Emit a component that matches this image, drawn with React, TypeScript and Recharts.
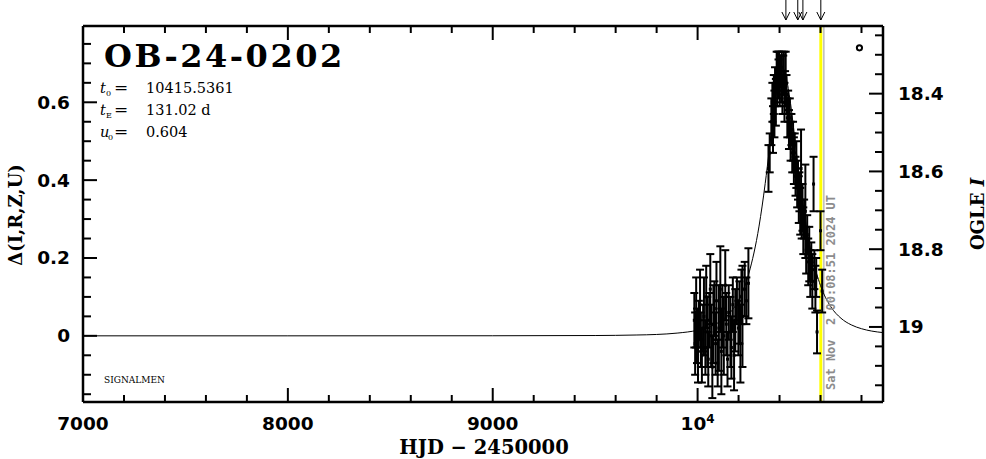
import React from 'react';
import { ComposedChart, Line, Scatter, XAxis, YAxis, ErrorBar, ReferenceLine } from 'recharts';

// model light curve (delta mag)
const modelT = [7000, 8000, 9000, 9500, 9700, 9800, 9900, 10000, 10050, 10100, 10150, 10200, 10250, 10300, 10330, 10350, 10380, 10400, 10415.5, 10430, 10450, 10480, 10500, 10520, 10560, 10600, 10650, 10700, 10750, 10800, 10850, 10905];
const modelD = [0, 0, 0.0002, 0.0008, 0.0021, 0.0035, 0.007, 0.0143, 0.0215, 0.0336, 0.0545, 0.0917, 0.1598, 0.2819, 0.3912, 0.4774, 0.6063, 0.6661, 0.6819, 0.6681, 0.6104, 0.4821, 0.3955, 0.319, 0.203, 0.1291, 0.075, 0.0451, 0.0282, 0.0183, 0.0122, 0.0083];

// early season (baseline) photometry
const obs1T = [9984, 9988, 9993, 9997, 10002, 10006, 10012, 10016, 10021, 10027, 10031, 10038, 10042, 10047, 10052, 10057, 10062, 10066, 10072, 10077, 10082, 10088, 10092, 10098, 10104, 10111, 10116, 10121, 10128, 10135, 10140, 10146, 10152, 10160, 10165, 10172, 10178, 10184, 10192, 10199, 10204, 10209, 10214, 10219, 10230, 10238, 10248];
const obs1D = [0.04, -0.02, 0.06, 0.0, -0.04, 0.03, 0.08, -0.01, -0.05, 0.02, 0.05, -0.03, 0.1, 0.01, -0.06, 0.04, 0.12, 0.0, -0.08, 0.03, 0.07, -0.02, 0.09, -0.07, 0.02, 0.12, -0.04, 0.05, 0.0, 0.13, 0.03, -0.06, 0.06, 0.01, -0.03, 0.08, -0.05, 0.04, 0.09, 0.02, 0.06, -0.02, 0.1, 0.05, 0.12, 0.09, 0.135];
const obs1E = [0.07, 0.08, 0.09, 0.07, 0.08, 0.06, 0.09, 0.07, 0.07, 0.06, 0.1, 0.07, 0.08, 0.09, 0.07, 0.07, 0.09, 0.08, 0.08, 0.1, 0.07, 0.08, 0.1, 0.06, 0.11, 0.11, 0.11, 0.08, 0.1, 0.09, 0.08, 0.07, 0.07, 0.09, 0.08, 0.07, 0.09, 0.08, 0.06, 0.07, 0.08, 0.1, 0.07, 0.13, 0.07, 0.06, 0.09];

// peak season photometry
const obs2T = [10346, 10352, 10360, 10365, 10368, 10372, 10375, 10378, 10382, 10386, 10389, 10392, 10395, 10398, 10401, 10404, 10408, 10411, 10414, 10418, 10421, 10424, 10427, 10430, 10434, 10438, 10442, 10446, 10450, 10454, 10458, 10462, 10466, 10470, 10474, 10478, 10482, 10486, 10490, 10494, 10497, 10501, 10505, 10508, 10512, 10516, 10520, 10526, 10530, 10535, 10540, 10545, 10550, 10555, 10560, 10566, 10570, 10575, 10579, 10583, 10600, 10608];
const obs2D = [0.43, 0.47, 0.55, 0.6, 0.53, 0.62, 0.57, 0.64, 0.6, 0.68, 0.63, 0.69, 0.66, 0.69, 0.64, 0.68, 0.66, 0.69, 0.62, 0.67, 0.68, 0.6, 0.64, 0.66, 0.62, 0.56, 0.59, 0.53, 0.56, 0.5, 0.53, 0.47, 0.5, 0.45, 0.47, 0.41, 0.44, 0.38, 0.4, 0.35, 0.37, 0.32, 0.43, 0.3, 0.33, 0.27, 0.3, 0.32, 0.22, 0.26, 0.19, 0.21, 0.16, 0.19, 0.14, 0.39, 0.17, 0.12, 0.15, 0.01, 0.27, 0.115];
const obs2E = [0.06, 0.05, 0.06, 0.05, 0.06, 0.05, 0.06, 0.05, 0.06, 0.05, 0.04, 0.04, 0.05, 0.04, 0.05, 0.04, 0.06, 0.04, 0.05, 0.05, 0.05, 0.05, 0.04, 0.07, 0.05, 0.05, 0.04, 0.05, 0.05, 0.05, 0.04, 0.05, 0.05, 0.06, 0.05, 0.05, 0.06, 0.05, 0.05, 0.06, 0.05, 0.06, 0.1, 0.05, 0.06, 0.06, 0.05, 0.12, 0.06, 0.05, 0.06, 0.07, 0.06, 0.05, 0.07, 0.07, 0.05, 0.06, 0.05, 0.055, 0.05, 0.055];

const arrowT = [10431, 10489, 10514, 10601.5];
const markerT = [10790];
const markerD = [0.74];

const xMajor = [7000, 8000, 9000, 10000];
const xMajorLabels = ['7000', '8000', '9000', '10^4'];
const yMajor = [0, 0.2, 0.4, 0.6];
const yMajorLabels = ['0', '0.2', '0.4', '0.6'];
const magMajor = [18.4, 18.6, 18.8, 19];
const magMajorLabels = ['18.4', '18.6', '18.8', '19'];

const nowT = 10616.5;
const lastT = 10601.5;

const W = 986;
const H = 459;
const TOP = 26;
const BOTTOM = 402;
const LEFT = 83;
const RIGHT = 883;

const range = (a: number, b: number, step: number) => {
  const out: number[] = [];
  for (let v = a; v <= b + 1e-9; v += step) out.push(Math.round(v * 1000) / 1000);
  return out;
};
const xTicks = range(7000, 10800, 200);
const topTicks = [...xTicks, ...arrowT].sort((a, b) => a - b);
const yTicks = range(-0.15, 0.75, 0.05);
const magTicks = range(18.25, 19.15, 0.05);
const isIn = (arr: number[], v: number) => arr.findIndex(a => Math.abs(a - v) < 1e-6);

const modelData = modelT.map((t, i) => ({ t, d: modelD[i] }));
const obs1 = obs1T.map((t, i) => ({ t, d: obs1D[i], e: obs1E[i] }));
const obs2 = obs2T.map((t, i) => ({ t, d: obs2D[i], e: obs2E[i] }));
const marker = markerT.map((t, i) => ({ t, d: markerD[i] }));

const tickFont = { fontFamily: '"DejaVu Sans", sans-serif', fontWeight: 'bold' as const, fontSize: 18.5, fill: '#000' };

const BottomTick = (props: any) => {
  const { x, payload } = props;
  const idx = isIn(xMajor, payload.value);
  const major = idx >= 0;
  const lab = major ? xMajorLabels[idx] : '';
  return (
    <g>
      <line x1={x} x2={x} y1={BOTTOM} y2={BOTTOM - (major ? 14 : 7)} stroke="#000" strokeWidth={2} />
      {major && lab === '10^4' ? (
        <text x={x} y={430} textAnchor="middle" {...tickFont}>
          10<tspan dy={-7} fontSize={12}>4</tspan>
        </text>
      ) : major ? (
        <text x={x} y={430} textAnchor="middle" {...tickFont}>{lab}</text>
      ) : null}
    </g>
  );
};

// top frame ticks plus the arrows above the frame
const TopTick = (props: any) => {
  const { x, payload } = props;
  if (isIn(arrowT, payload.value) >= 0) {
    return (
      <g stroke="#000" strokeWidth={1} fill="none">
        <line x1={x} x2={x} y1={0} y2={20} />
        <polyline points={`${x - 4},12 ${x},20 ${x + 4},12`} />
      </g>
    );
  }
  const major = isIn(xMajor, payload.value) >= 0;
  return <line x1={x} x2={x} y1={TOP} y2={TOP + (major ? 14 : 7)} stroke="#000" strokeWidth={2} />;
};

const LeftTick = (props: any) => {
  const { y, payload } = props;
  const idx = isIn(yMajor, payload.value);
  const major = idx >= 0;
  return (
    <g>
      <line x1={LEFT} x2={LEFT + (major ? 14 : 8)} y1={y} y2={y} stroke="#000" strokeWidth={2} />
      {major && (
        <text x={70} y={y} textAnchor="end" dominantBaseline="central" {...tickFont}>{yMajorLabels[idx]}</text>
      )}
    </g>
  );
};

const RightTick = (props: any) => {
  const { y, payload } = props;
  const idx = isIn(magMajor, payload.value);
  const major = idx >= 0;
  return (
    <g>
      <line x1={RIGHT} x2={RIGHT - (major ? 14 : 8)} y1={y} y2={y} stroke="#000" strokeWidth={2} />
      {major && (
        <text x={898} y={y} textAnchor="start" dominantBaseline="central" {...tickFont}>{magMajorLabels[idx]}</text>
      )}
    </g>
  );
};

const Dot = (props: any) => {
  const { cx, cy } = props;
  if (cx == null || cy == null) return <g />;
  return <rect x={cx - 1.5} y={cy - 1.5} width={3} height={3} fill="#000" />;
};

const Ring = (props: any) => {
  const { cx, cy } = props;
  if (cx == null || cy == null) return <g />;
  return <circle cx={cx} cy={cy} r={2.6} fill="none" stroke="#000" strokeWidth={2} />;
};

const axisLine = { stroke: '#000', strokeWidth: 2.5 };
const serif = '"DejaVu Serif", serif';

export default function App() {
  return (
    <div style={{ position: 'absolute', left: 0, top: 0, width: W, height: H, background: '#fff' }}>
      <ComposedChart width={W} height={H} margin={{ top: TOP - 1, right: 0, bottom: 0, left: 0 }}>
        <XAxis xAxisId="x" dataKey="t" type="number" domain={[7000, 10905]} allowDataOverflow
          ticks={xTicks} interval={0} tick={<BottomTick />} tickLine={false} axisLine={axisLine} height={H - BOTTOM} />
        <XAxis xAxisId="top" orientation="top" dataKey="t" type="number" domain={[7000, 10905]} allowDataOverflow
          ticks={topTicks} interval={0} tick={<TopTick />} tickLine={false} axisLine={axisLine} height={1} />
        <YAxis yAxisId="L" dataKey="d" type="number" domain={[-0.17, 0.796]} allowDataOverflow
          ticks={yTicks} interval={0} tick={<LeftTick />} tickLine={false} axisLine={axisLine} width={LEFT} />
        <YAxis yAxisId="R" orientation="right" type="number" domain={[18.226, 19.193]} reversed allowDataOverflow
          ticks={magTicks} interval={0} tick={<RightTick />} tickLine={false} axisLine={axisLine} width={W - RIGHT} />

        <ReferenceLine xAxisId="x" yAxisId="L" x={lastT} stroke="#ffff00" strokeWidth={3} />
        <ReferenceLine xAxisId="x" yAxisId="L" x={nowT} stroke="#9a9a9a" strokeWidth={1} />

        <Line xAxisId="x" yAxisId="L" data={modelData} dataKey="d" type="monotone" stroke="#000" strokeWidth={1}
          dot={false} activeDot={false} isAnimationActive={false} />
        <Scatter xAxisId="x" yAxisId="L" data={obs1} dataKey="d" shape={<Dot />} isAnimationActive={false}>
          <ErrorBar dataKey="e" direction="y" width={4} strokeWidth={2} stroke="#000" isAnimationActive={false} />
        </Scatter>
        <Scatter xAxisId="x" yAxisId="L" data={obs2} dataKey="d" shape={<Dot />} isAnimationActive={false}>
          <ErrorBar dataKey="e" direction="y" width={4} strokeWidth={2} stroke="#000" isAnimationActive={false} />
        </Scatter>
        <Scatter xAxisId="x" yAxisId="L" data={marker} dataKey="d" shape={<Ring />} isAnimationActive={false} />
      </ComposedChart>

      <svg width={W} height={H} style={{ position: 'absolute', left: 0, top: 0, pointerEvents: 'none' }}>
        <text x={104} y={67} fontFamily={serif} fontWeight="bold" fontSize={32} letterSpacing={2.5} fill="#000">OB-24-0202</text>
        <g fontFamily={serif} fontSize={14.5} fill="#000" style={{ whiteSpace: 'pre' }}>
          <text y={93}>
            <tspan x={100} fontStyle="italic">t</tspan>
            <tspan x={106} dy={3} fontSize={8}>0</tspan>
            <tspan x={114} dy={-3} fontSize={17}>=</tspan>
            <tspan x={146}>10415.5361</tspan>
          </text>
          <text y={115}>
            <tspan x={100} fontStyle="italic">t</tspan>
            <tspan x={106} dy={3} fontSize={8}>E</tspan>
            <tspan x={114} dy={-3} fontSize={17}>=</tspan>
            <tspan x={146}>131.02 d</tspan>
          </text>
          <text y={137}>
            <tspan x={100} fontStyle="italic">u</tspan>
            <tspan x={108} dy={3} fontSize={8}>0</tspan>
            <tspan x={114} dy={-3} fontSize={17}>=</tspan>
            <tspan x={146}>0.604</tspan>
          </text>
        </g>
        <text x={104} y={383} fontFamily={serif} fontSize={9} fill="#000">SIGNALMEN</text>
        <text x={835} y={390} transform="rotate(-90 835 390)" fontFamily='"DejaVu Sans Mono", monospace'
          fontWeight="bold" fontSize={12} fill="#8c8c8c" style={{ whiteSpace: 'pre' }}>Sat Nov  2 00:08:51 2024 UT</text>
        <text x={484} y={454} textAnchor="middle" fontFamily={serif} fontWeight="bold" fontSize={19.5} fill="#000" style={{ whiteSpace: 'pre' }}>HJD − 2450000</text>
        <text x={15} y={215} transform="rotate(-90 15 215)" textAnchor="middle" dominantBaseline="central"
          fontFamily={serif} fontWeight="bold" fontSize={18} fill="#000">Δ(I,R,Z,U)</text>
        <text x={977} y={214} transform="rotate(-90 977 214)" textAnchor="middle" dominantBaseline="central"
          fontFamily={serif} fontWeight="bold" fontSize={18} fill="#000" style={{ whiteSpace: 'pre' }}>OGLE <tspan fontStyle="italic">I</tspan></text>
      </svg>
    </div>
  );
}
